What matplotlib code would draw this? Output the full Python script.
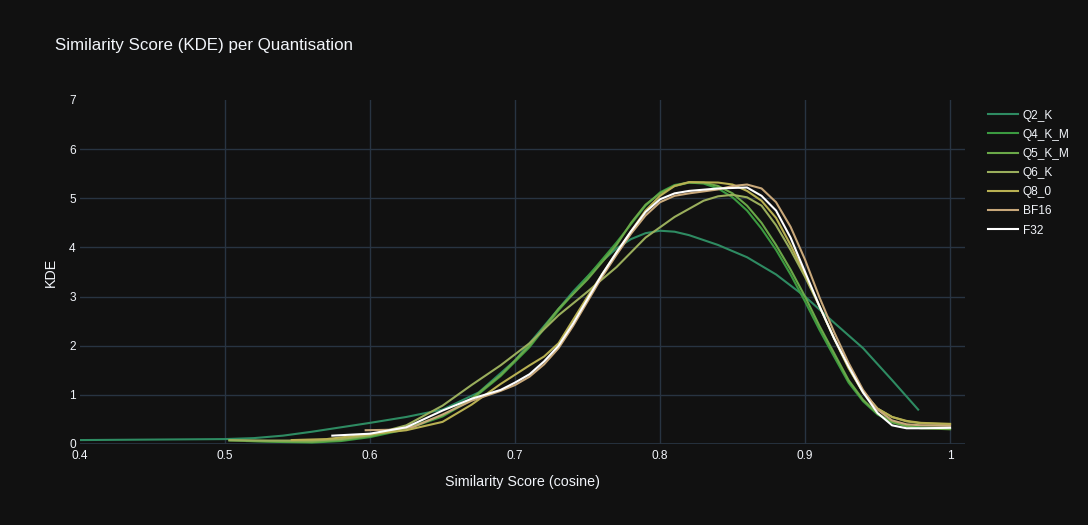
import matplotlib
matplotlib.use("Agg")
import matplotlib.pyplot as plt

# KDE curves
q2k_x = [0.40, 0.45, 0.50, 0.52, 0.54, 0.56, 0.58, 0.60, 0.625, 0.65, 0.675, 0.70, 0.72, 0.74, 0.76, 0.77,
         0.78, 0.79, 0.80, 0.81, 0.82, 0.84, 0.86, 0.88, 0.90, 0.92, 0.94, 0.96, 0.978]
q2k_y = [0.08, 0.09, 0.10, 0.12, 0.17, 0.25, 0.34, 0.43, 0.55, 0.70, 1.05, 1.70, 2.40, 3.10, 3.72, 3.98,
         4.17, 4.29, 4.34, 4.32, 4.25, 4.05, 3.80, 3.45, 3.00, 2.47, 1.95, 1.30, 0.70]

q4km_x = [0.515, 0.54, 0.56, 0.58, 0.60, 0.625, 0.65, 0.67, 0.69, 0.71, 0.73, 0.75, 0.77, 0.79, 0.80, 0.81,
          0.82, 0.83, 0.84, 0.85, 0.86, 0.87, 0.88, 0.89, 0.90, 0.91, 0.92, 0.93, 0.94, 0.95, 0.96, 0.97,
          0.98, 1.0]
q4km_y = [0.06, 0.04, 0.03, 0.06, 0.14, 0.30, 0.56, 0.90, 1.38, 1.97, 2.72, 3.40, 4.10, 4.85, 5.12, 5.27,
          5.32, 5.30, 5.20, 5.02, 4.75, 4.38, 3.95, 3.45, 2.90, 2.32, 1.78, 1.25, 0.87, 0.60, 0.44, 0.37,
          0.34, 0.33]

q5km_x = [0.503, 0.52, 0.54, 0.56, 0.58, 0.60, 0.625, 0.65, 0.67, 0.69, 0.71, 0.73, 0.75, 0.77, 0.78, 0.79,
          0.80, 0.81, 0.82, 0.83, 0.84, 0.85, 0.86, 0.87, 0.88, 0.89, 0.90, 0.91, 0.92, 0.93, 0.94, 0.95,
          0.96, 0.97, 0.98, 1.0]
q5km_y = [0.07, 0.06, 0.05, 0.04, 0.08, 0.16, 0.32, 0.58, 0.92, 1.40, 2.00, 2.75, 3.35, 4.05, 4.50, 4.87,
          5.10, 5.25, 5.32, 5.32, 5.25, 5.10, 4.85, 4.50, 4.05, 3.55, 3.00, 2.40, 1.85, 1.30, 0.90, 0.62,
          0.45, 0.36, 0.32, 0.30]

q6k_x = [0.503, 0.53, 0.56, 0.58, 0.60, 0.625, 0.65, 0.67, 0.69, 0.71, 0.73, 0.75, 0.77, 0.79, 0.81, 0.83,
         0.84, 0.85, 0.86, 0.87, 0.88, 0.89, 0.90, 0.91, 0.92, 0.93, 0.94, 0.95, 0.96, 0.97, 0.98, 1.0]
q6k_y = [0.08, 0.07, 0.07, 0.10, 0.18, 0.38, 0.78, 1.20, 1.60, 2.05, 2.62, 3.10, 3.60, 4.20, 4.62, 4.95,
         5.04, 5.07, 5.02, 4.85, 4.45, 3.95, 3.40, 2.80, 2.15, 1.55, 1.05, 0.72, 0.55, 0.46, 0.42, 0.40]

q80_x = [0.546, 0.57, 0.60, 0.625, 0.65, 0.67, 0.69, 0.71, 0.72, 0.73, 0.75, 0.77, 0.79, 0.80, 0.81, 0.82,
         0.84, 0.85, 0.86, 0.87, 0.88, 0.89, 0.90, 0.91, 0.92, 0.93, 0.94, 0.95, 0.96, 0.97, 0.98, 1.0]
q80_y = [0.08, 0.10, 0.20, 0.28, 0.45, 0.80, 1.22, 1.60, 1.78, 2.05, 3.00, 3.90, 4.75, 5.05, 5.25, 5.33,
         5.32, 5.28, 5.15, 4.95, 4.60, 4.05, 3.45, 2.80, 2.15, 1.55, 1.05, 0.72, 0.55, 0.47, 0.43, 0.41]

bf16_x = [0.597, 0.615, 0.63, 0.65, 0.67, 0.69, 0.70, 0.71, 0.72, 0.73, 0.74, 0.75, 0.76, 0.77, 0.78, 0.79,
          0.80, 0.81, 0.82, 0.84, 0.85, 0.86, 0.87, 0.88, 0.89, 0.90, 0.91, 0.92, 0.93, 0.94, 0.95, 0.96,
          0.97, 0.98, 1.0]
bf16_y = [0.28, 0.29, 0.35, 0.60, 0.88, 1.08, 1.20, 1.37, 1.62, 1.95, 2.40, 2.90, 3.40, 3.85, 4.28, 4.65,
          4.92, 5.05, 5.10, 5.18, 5.25, 5.28, 5.20, 4.92, 4.42, 3.75, 2.98, 2.28, 1.65, 1.10, 0.70, 0.48,
          0.40, 0.38, 0.37]

f32_x = [0.574, 0.60, 0.625, 0.65, 0.67, 0.69, 0.70, 0.71, 0.72, 0.73, 0.74, 0.75, 0.76, 0.77, 0.78, 0.79,
         0.80, 0.81, 0.82, 0.84, 0.86, 0.87, 0.88, 0.89, 0.90, 0.91, 0.92, 0.93, 0.94, 0.95, 0.96, 0.97,
         0.98, 1.0]
f32_y = [0.17, 0.21, 0.34, 0.68, 0.92, 1.10, 1.25, 1.42, 1.68, 2.00, 2.45, 2.95, 3.45, 3.90, 4.33, 4.72,
         4.98, 5.10, 5.15, 5.20, 5.22, 5.05, 4.75, 4.20, 3.50, 2.80, 2.15, 1.58, 1.05, 0.63, 0.38, 0.32,
         0.32, 0.33]

series = [
    ("Q2_K", q2k_x, q2k_y, "#2e8b62"),
    ("Q4_K_M", q4km_x, q4km_y, "#3b9a40"),
    ("Q5_K_M", q5km_x, q5km_y, "#6aa848"),
    ("Q6_K", q6k_x, q6k_y, "#9aae5c"),
    ("Q8_0", q80_x, q80_y, "#b8b052"),
    ("BF16", bf16_x, bf16_y, "#c8a87a"),
    ("F32", f32_x, f32_y, "#ffffff"),
]

x_ticks = [0.4, 0.5, 0.6, 0.7, 0.8, 0.9, 1.0]
x_tick_labels = ["0.4", "0.5", "0.6", "0.7", "0.8", "0.9", "1"]
y_ticks = [0, 1, 2, 3, 4, 5, 6, 7]

bg = "#111111"
grid = "#283442"
txt = "#f2f5fa"

plt.rcParams['font.family'] = ['Liberation Sans', 'DejaVu Sans']

fig = plt.figure(figsize=(10.88, 5.25), dpi=100, facecolor=bg)
ax = fig.add_axes([80 / 1088, 1 - 444 / 525, 885 / 1088, 344 / 525], facecolor=bg)

for name, xs, ys, col in series:
    ax.plot(xs, ys, color=col, lw=1.5, label=name, solid_joinstyle='round', zorder=3)

ax.set_xlim(0.4, 1.0103)
ax.set_ylim(0, 7)
ax.set_xticks(x_ticks)
ax.set_xticklabels(x_tick_labels)
ax.set_yticks(y_ticks)

# grid lines by hand so the ones on the plot edges (0.4 and 7) are left out
for xv in x_ticks[1:]:
    ax.axvline(xv, color=grid, lw=1, zorder=0)
for yv in y_ticks[1:-1]:
    ax.axhline(yv, color=grid, lw=1, zorder=0)
ax.axhline(0, color=grid, lw=2, zorder=1)

for s in ax.spines.values():
    s.set_visible(False)
ax.tick_params(colors=txt, length=0, labelsize=8.6, pad=4)
ax.tick_params(axis='y', pad=3)

ax.set_xlabel("Similarity Score (cosine)", color=txt, fontsize=10.3, labelpad=10)
ax.set_ylabel("KDE", color=txt, fontsize=10.3, labelpad=8)

fig.text(55 / 1088, 1 - 45.5 / 525, "Similarity Score (KDE) per Quantisation", color=txt,
         fontsize=12.2, ha='left', va='center')

leg = ax.legend(loc='upper left', bbox_to_anchor=(988 / 1088, 1 - 109.5 / 525),
                bbox_transform=fig.transFigure, frameon=False, fontsize=8.6,
                labelspacing=0.6, handlelength=2.5, handletextpad=0.4, borderpad=0,
                borderaxespad=0)
for t in leg.get_texts():
    t.set_color(txt)

fig.savefig("out.png", dpi=100, facecolor=bg)
